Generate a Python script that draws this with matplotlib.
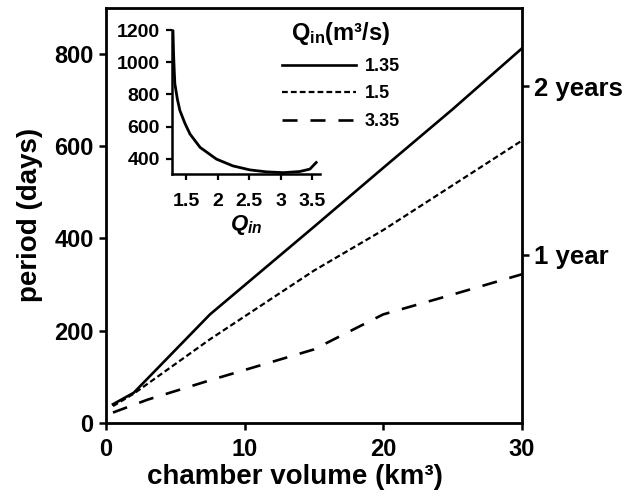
import matplotlib
matplotlib.use("Agg")
import matplotlib.pyplot as plt

plt.rcParams["font.family"] = ["Liberation Sans", "DejaVu Sans"]
plt.rcParams["font.weight"] = "bold"
plt.rcParams["mathtext.fontset"] = "custom"
plt.rcParams["mathtext.rm"] = "Liberation Sans:bold"
plt.rcParams["mathtext.it"] = "Liberation Sans:bold:italic"
plt.rcParams["mathtext.bf"] = "Liberation Sans:bold"

# main panel: period vs chamber volume for three inflow rates
vol_135 = [0.5, 2.0, 7.5, 15.0, 20.0, 25.0, 30.0]
per_135 = [40, 65, 235, 425, 553, 680, 812]
vol_15 = [0.5, 2.0, 7.5, 15.0, 20.0, 25.0, 30.0]
per_15 = [36, 63, 181, 330, 418, 515, 612]
vol_335 = [0.5, 3.0, 7.5, 15.0, 20.0, 25.0, 30.0]
per_335 = [22, 50, 92, 159, 235, 278, 322]
series_labels = ["1.35", "1.5", "3.35"]

# inset: period vs Q_in
q_in = [1.29, 1.30, 1.31, 1.32, 1.36, 1.40, 1.48, 1.56, 1.72, 1.98,
        2.24, 2.51, 2.77, 3.04, 3.30, 3.46, 3.56]
q_per = [1200, 1050, 950, 867, 770, 700, 620, 554, 471, 398,
         356, 331, 319, 314, 321, 336, 377]

fig = plt.figure(figsize=(6.35, 4.96), dpi=100)
ax = fig.add_axes([0.167, 0.1478, 0.6546, 0.836])

ax.plot(vol_135, per_135, color="black", lw=1.9, label=series_labels[0])
ax.plot(vol_15, per_15, color="black", lw=1.6, dashes=(2.6, 1.4), label=series_labels[1])
ax.plot(vol_335, per_335, color="black", lw=1.9, dashes=(5.7, 4.9), label=series_labels[2])

ax.set_xlim(0, 30)
ax.set_ylim(0, 900)
ax.set_xticks([0, 10, 20, 30])
ax.set_yticks([0, 200, 400, 600, 800])
ax.tick_params(direction="out", length=5, width=1.8, labelsize=17)
ax.tick_params(axis="x", pad=6)
ax.tick_params(axis="y", pad=4)
for s in ax.spines.values():
    s.set_linewidth(2)
ax.set_xlabel("chamber volume (km³)", fontsize=20, fontweight="bold")
ax.xaxis.set_label_coords(0.454, -0.1)
ax.set_ylabel("period (days)", fontsize=20, fontweight="bold", labelpad=8)

ax2 = ax.twinx()
ax2.set_ylim(0, 900)
ax2.set_yticks([365, 730])
ax2.set_yticklabels(["1 year", "2 years"])
ax2.tick_params(direction="out", length=5, width=1.8, labelsize=18.5, pad=4)
for s in ax2.spines.values():
    s.set_visible(False)

leg = ax.legend(loc="upper left", bbox_to_anchor=(0.4436, 0.9587),
                bbox_transform=fig.transFigure, frameon=False,
                title="Q$_{\\mathrm{in}}$(m³/s)", fontsize=13, title_fontsize=17,
                handlelength=4.1, handletextpad=0.48, labelspacing=0.58,
                borderpad=0, borderaxespad=0)
leg.get_title().set_fontweight("bold")

ins = fig.add_axes([0.2704, 0.649, 0.2335, 0.2903])
ins.plot(q_in, q_per, color="black", lw=2)
ins.set_xlim(1.27, 3.62)
ins.set_ylim(305, 1200)
ins.set_xticks([1.5, 2, 2.5, 3, 3.5])
ins.set_xticklabels(["1.5", "2", "2.5", "3", "3.5"])
ins.set_yticks([400, 600, 800, 1000, 1200])
ins.spines["top"].set_visible(False)
ins.spines["right"].set_visible(False)
for s in ("left", "bottom"):
    ins.spines[s].set_linewidth(1.8)
ins.tick_params(direction="out", length=4.5, width=1.6, labelsize=14)
ins.tick_params(axis="x", pad=9)
ins.tick_params(axis="y", pad=4)
ins.set_xlabel("$Q_{in}$", fontsize=16, labelpad=2)
ins.patch.set_alpha(0)

fig.savefig("out.png", dpi=100)
